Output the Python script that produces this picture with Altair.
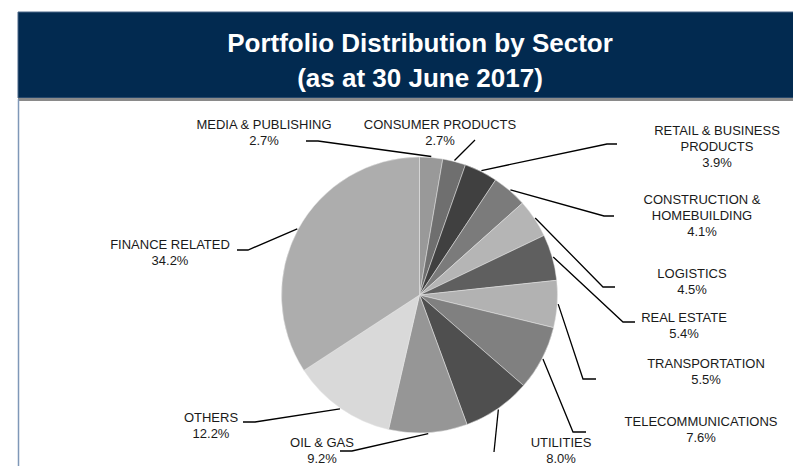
import math
import altair as alt
import pandas as pd

# ---- data ----
sectors = ["MEDIA & PUBLISHING", "CONSUMER PRODUCTS", "RETAIL & BUSINESS PRODUCTS",
           "CONSTRUCTION & HOMEBUILDING", "LOGISTICS", "REAL ESTATE", "TRANSPORTATION",
           "TELECOMMUNICATIONS", "UTILITIES", "OIL & GAS", "OTHERS", "FINANCE RELATED"]
label_names = ["MEDIA & PUBLISHING", "CONSUMER PRODUCTS", "RETAIL & BUSINESS\nPRODUCTS",
               "CONSTRUCTION &\nHOMEBUILDING", "LOGISTICS", "REAL ESTATE", "TRANSPORTATION",
               "TELECOMMUNICATIONS", "UTILITIES", "OIL & GAS", "OTHERS", "FINANCE RELATED"]
values = [2.7, 2.7, 3.9, 4.1, 4.5, 5.4, 5.5, 7.6, 8.0, 9.2, 12.2, 34.2]
colors = ["#999999", "#6f6f6f", "#404040", "#7b7b7b", "#b5b5b5", "#5f5f5f",
          "#b2b2b2", "#808080", "#4f4f4f", "#969696", "#d9d9d9", "#adadad"]

title_lines = ["Portfolio Distribution by Sector", "(as at 30 June 2017)"]

# ---- layout (page pixel positions of labels / leader elbows) ----
label_x = [264, 440, 717, 702, 692, 684, 706, 701, 561, 322, 211, 170]
label_y = [129, 129, 135, 204, 278, 322, 368, 426, 447, 447, 422, 249]
elbow_x = [318, 475, 607, 604, 603, 623, 583, 573, 494, 352, 255, 248]
elbow_y = [141, 140, 144, 216, 287, 322, 379, 432, 452, 451, 422, 250]
end_x = [306, 475, 617, 614, 615, 635, 596, 586, 494, 340, 243, 237]
end_y = [141, 140, 144, 216, 287, 322, 379, 432, 452, 451, 422, 250]

W, H = 785, 458
M = 8  # page margin
CX, CY, R = 419.5, 295.0, 138

pie_df = pd.DataFrame({"sector": sectors, "value": values, "ord": list(range(len(sectors)))})

lab_df = pd.DataFrame({
    "text": [f"{n}\n{v:.1f}%" for n, v in zip(label_names, values)],
    "x": label_x, "y": label_y,
})

rows = []
cum = 0.0
for i, (s, v) in enumerate(zip(sectors, values)):
    a = (cum + v / 2) / 100 * 2 * math.pi
    cum += v
    sx = CX + (R + 1) * math.sin(a)
    sy = CY - (R + 1) * math.cos(a)
    rows += [
        {"sector": s, "k": 0, "x": sx, "y": sy},
        {"sector": s, "k": 1, "x": elbow_x[i], "y": elbow_y[i]},
        {"sector": s, "k": 2, "x": end_x[i], "y": end_y[i]},
    ]
lead_df = pd.DataFrame(rows)

xs = alt.Scale(domain=[M, M + W], nice=False, zero=False)
ys = alt.Scale(domain=[M, M + H], nice=False, zero=False, reverse=True)

# ---- header decoration ----
header = alt.Chart(pd.DataFrame({"a": [0]})).mark_rect(
    color="#022a50", stroke="#4a6688", strokeWidth=1
).encode(x=alt.value(10), x2=alt.value(W + 2), y=alt.value(4), y2=alt.value(90))

band = alt.Chart(pd.DataFrame({"a": [0]})).mark_rect(color="#8a8a8a").encode(
    x=alt.value(10), x2=alt.value(W), y=alt.value(90), y2=alt.value(93))

left_rule = alt.Chart(pd.DataFrame({"a": [0]})).mark_rule(color="#7f98b8", strokeWidth=1.5).encode(
    x=alt.value(10.5), y=alt.value(91), y2=alt.value(H))

title_df = pd.DataFrame({"t": title_lines, "row": [0, 1]})
title1 = alt.Chart(title_df.iloc[[0]]).mark_text(
    font="Liberation Sans", fontSize=26, fontWeight="bold", color="white", align="center",
    baseline="alphabetic"
).encode(x=alt.value(420 - M), y=alt.value(52 - M), text="t:N")
title2 = alt.Chart(title_df.iloc[[1]]).mark_text(
    font="Liberation Sans", fontSize=26, fontWeight="bold", color="white", align="center",
    baseline="alphabetic"
).encode(x=alt.value(420 - M), y=alt.value(87 - M), text="t:N")

# ---- pie ----
pie = alt.Chart(pie_df).mark_arc(outerRadius=R, stroke="#e6e6e6", strokeWidth=0.5).encode(
    theta=alt.Theta("value:Q", stack=True),
    order=alt.Order("ord:Q", sort="ascending"),
    color=alt.Color("sector:N", scale=alt.Scale(domain=sectors, range=colors), legend=None),
    x=alt.value(CX - M), y=alt.value(CY - M),
)

leaders = alt.Chart(lead_df).mark_line(color="#000000", strokeWidth=1.3).encode(
    x=alt.X("x:Q", scale=xs, axis=None),
    y=alt.Y("y:Q", scale=ys, axis=None),
    detail="sector:N",
    order="k:Q",
)

labels = alt.Chart(lab_df).mark_text(
    font="Liberation Sans", fontSize=13, color="#1a1a1a", align="center",
    baseline="alphabetic", lineBreak="\n", lineHeight=16
).encode(
    x=alt.X("x:Q", scale=xs, axis=None),
    y=alt.Y("y:Q", scale=ys, axis=None),
    text="text:N",
)

chart = alt.layer(header, band, left_rule, title1, title2, pie, leaders, labels).properties(
    width=W, height=H, padding=0, autosize=alt.AutoSizeParams(type="none"),
    background="white"
).configure_view(stroke=None)

chart.save("out.html", embed_options={"renderer": "svg", "actions": False})
